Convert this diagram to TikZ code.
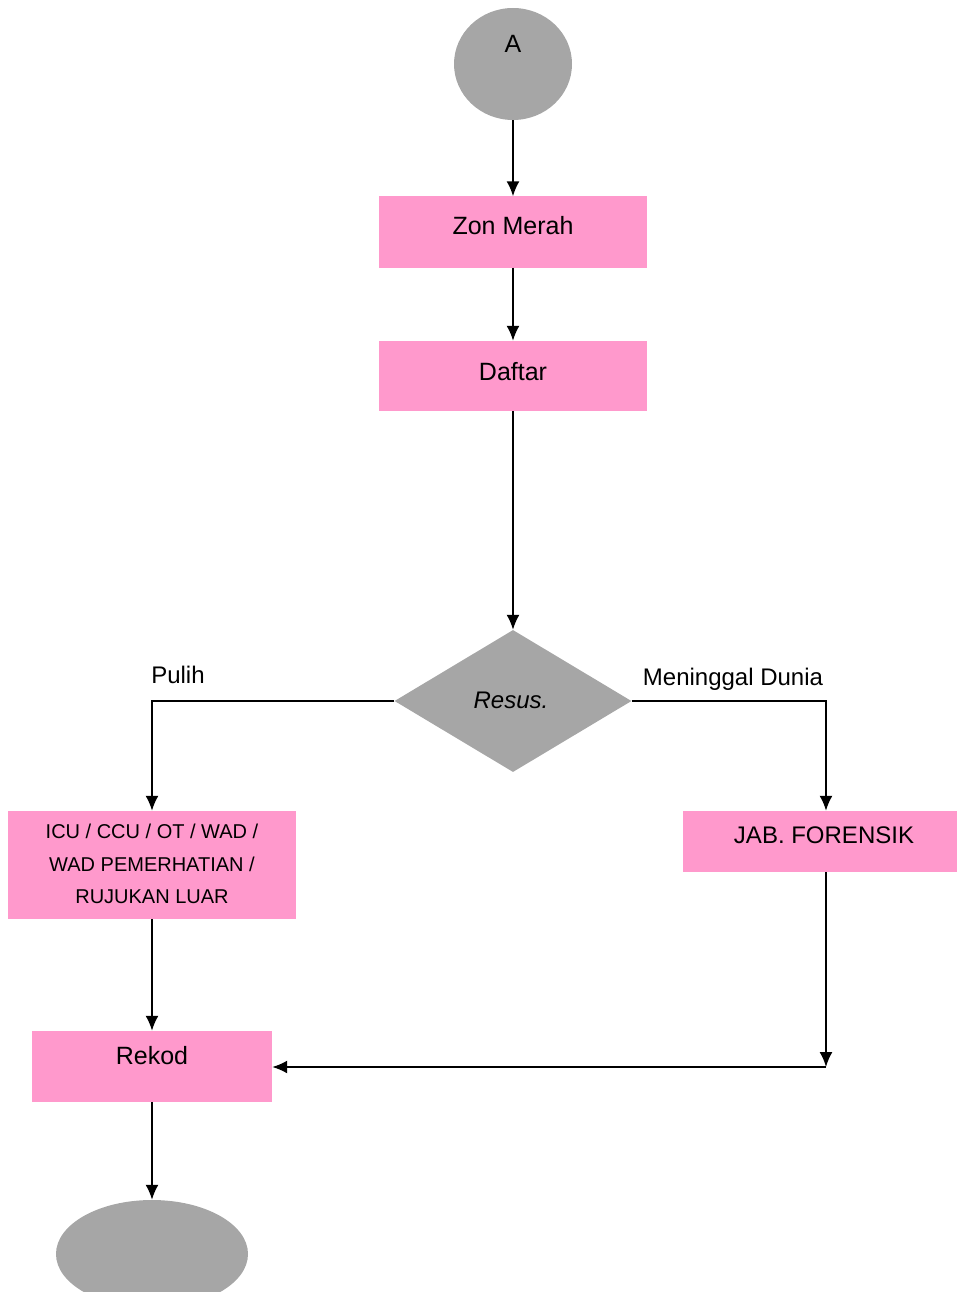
\documentclass[tikz,border=0pt]{standalone}
\usepackage{fontspec}
\setmainfont{Liberation Sans}
\usetikzlibrary{arrows.meta,shapes.geometric}

\definecolor{boxpink}{HTML}{FF99CC}
\definecolor{shapegray}{HTML}{A6A6A6}

\tikzset{
  flowbox/.style={rectangle, fill=boxpink, draw=none, inner sep=0pt},
  terminal/.style={ellipse, fill=shapegray, draw=none, inner sep=0pt},
  decision/.style={diamond, fill=shapegray, draw=none, inner sep=0pt},
  lbl/.style={inner sep=0pt, anchor=base, font=\fontsize{25}{28}\selectfont},
  smalllbl/.style={inner sep=0pt, align=center, font=\fontsize{20}{32.5}\selectfont},
  flow/.style={line width=1.8pt, -{Latex[length=15pt,width=13pt]}},
}

\begin{document}
\begin{tikzpicture}[x=1pt,y=-1pt]
\useasboundingbox (0,0) rectangle (957,1292);

% shapes
\node[terminal, minimum width=118, minimum height=112] (start) at (513,64) {};
\node[flowbox, minimum width=268, minimum height=71] (zon) at (513,232) {};
\node[flowbox, minimum width=268, minimum height=70] (daftar) at (513,376) {};
\node[decision, minimum width=237, minimum height=142] (resus) at (513,701) {};
\node[flowbox, minimum width=288, minimum height=108] (icu) at (152,865) {};
\node[flowbox, minimum width=274, minimum height=61] (jab) at (820,841.5) {};
\node[flowbox, minimum width=240, minimum height=71] (rekod) at (152,1066.5) {};
\node[terminal, minimum width=192, minimum height=108] (end) at (152,1254) {};

% texts
\node[lbl] (startT) at (513,53) {A};
\node[lbl] (zonT) at (513,234) {Zon Merah};
\node[lbl] (daftarT) at (513,380) {Daftar};
\node[lbl, font=\fontsize{24}{28}\selectfont\itshape] (resusT) at (511,708) {Resus.};
\node[lbl, font=\fontsize{24}{28}\selectfont] (pulih) at (178,683) {Pulih};
\node[lbl, font=\fontsize{24}{28}\selectfont] (meninggal) at (733,685) {Meninggal Dunia};
\node[smalllbl] (icuT) at (152,864) {ICU / CCU / OT / WAD /\\WAD PEMERHATIAN /\\RUJUKAN LUAR};
\node[lbl, font=\fontsize{24}{28}\selectfont] (jabT) at (824,843) {JAB.\ FORENSIK};
\node[lbl] (rekodT) at (152,1064) {Rekod};

% connectors
\coordinate (join) at (826,1067);
\draw[flow] (start.south) -- (zon.north);
\draw[flow] (zon.south) -- (daftar.north);
\draw[flow] (daftar.south) -- (resus.north);
\draw[flow] (resus.west) -| (icu.north);
\draw[flow] (resus.east) -| (jab.north -| join);
\draw[flow] (icu.south) -- (rekod.north);
\draw[flow] (jab.south -| join) -- (join);
\draw[flow] (join) -- (rekod.east |- join);
\draw[flow] (rekod.south) -- (end.north);
\end{tikzpicture}
\end{document}
